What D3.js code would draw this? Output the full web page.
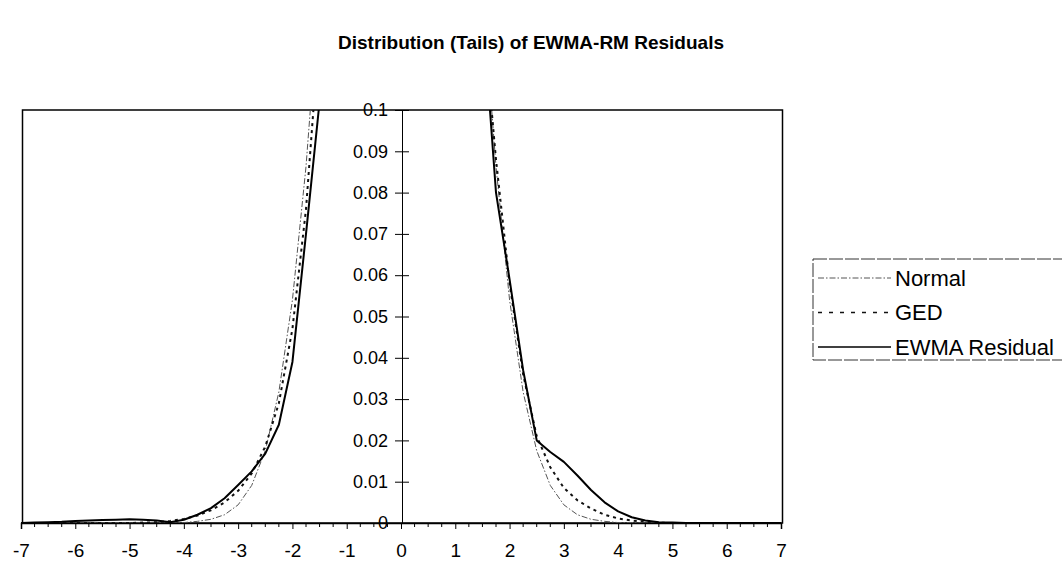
<!DOCTYPE html>
<html>
<head>
<meta charset="utf-8">
<script src="https://cdn.jsdelivr.net/npm/d3@7"></script>
<style>
  body { margin: 0; background: #fff; }
  svg { font-family: Arial, "Liberation Sans", sans-serif; }
</style>
</head>
<body>
<div id="entry"></div>
<script>
// x positions (standardised residual), step 0.25
var xVals = [-7, -6.75, -6.5, -6.25, -6, -5.75, -5.5, -5.25, -5, -4.75, -4.5, -4.25, -4, -3.75, -3.5, -3.25,
  -3, -2.75, -2.5, -2.25, -2, -1.75, -1.5, -1.25, -1, -0.75, -0.5, -0.25, 0, 0.25, 0.5, 0.75, 1, 1.25,
  1.5, 1.75, 2, 2.25, 2.5, 2.75, 3, 3.25, 3.5, 3.75, 4, 4.25, 4.5, 4.75, 5, 5.25, 5.5, 5.75, 6, 6.25,
  6.5, 6.75, 7];

var normalVals = [0, 0, 0, 0, 0, 0, 0, 0, 0, 0, 0, 0.0001, 0.0001, 0.0004, 0.0009, 0.002,
  0.0044, 0.0091, 0.0175, 0.0317, 0.054, 0.0863, 0.1295, 0.1826, 0.242, 0.3011, 0.3521, 0.3867, 0.3989,
  0.3867, 0.3521, 0.3011, 0.242, 0.1826, 0.1295, 0.0863, 0.054, 0.0317, 0.0175, 0.0091, 0.0044, 0.002,
  0.0009, 0.0004, 0.0001, 0.0001, 0, 0, 0, 0, 0, 0, 0, 0, 0, 0, 0];

var gedVals = [0, 0, 0, 0, 0, 0, 0, 0, 0, 0.0001, 0.0002, 0.0005, 0.001, 0.0018, 0.0031, 0.005,
  0.0078, 0.012, 0.0185, 0.029, 0.047, 0.076, 0.12, 0.17, 0.24, 0.31, 0.38, 0.43, 0.45,
  0.43, 0.38, 0.31, 0.24, 0.17, 0.125, 0.088, 0.058, 0.036, 0.021, 0.0135, 0.0085, 0.0055,
  0.0035, 0.002, 0.0011, 0.0006, 0.0003, 0.0001, 0, 0, 0, 0, 0, 0, 0, 0, 0];

var ewmaVals = [0, 0.0001, 0.0002, 0.0003, 0.0005, 0.0006, 0.0007, 0.0008, 0.0009, 0.0008, 0.0006, 0.0002, 0.0008, 0.002, 0.0036, 0.006,
  0.0092, 0.0125, 0.0168, 0.0238, 0.039, 0.07, 0.102, 0.16, 0.24, 0.33, 0.42, 0.48, 0.5,
  0.48, 0.42, 0.33, 0.24, 0.17, 0.125, 0.08, 0.059, 0.037, 0.02, 0.0172, 0.0148, 0.0115,
  0.008, 0.005, 0.0028, 0.0014, 0.0006, 0.0002, 0.0001, 0, 0, 0, 0, 0, 0, 0, 0];

var xTickLabels = [-7, -6, -5, -4, -3, -2, -1, 0, 1, 2, 3, 4, 5, 6, 7];
var yTickLabels = [0, 0.01, 0.02, 0.03, 0.04, 0.05, 0.06, 0.07, 0.08, 0.09, 0.1];
var seriesNames = ['Normal', 'GED', 'EWMA Residual'];

var W = 1062, H = 568;

var x = d3.scaleLinear().domain([-7, 7]).range([21, 781]);
var y = d3.scaleLinear().domain([0, 0.1]).range([523, 110]);

var styles = [
  {color: '#555', width: 1, dash: '6,2,1.5,2'},
  {color: '#111', width: 2, dash: '3,4'},
  {color: '#000', width: 2, dash: null}
];

var svg = d3.select('#entry').append('svg')
  .attr('width', W)
  .attr('height', H);

svg.append('text')
  .attr('x', 531)
  .attr('y', 49)
  .attr('text-anchor', 'middle')
  .style('font-size', '19px')
  .style('font-weight', 'bold')
  .text('Distribution (Tails) of EWMA-RM Residuals');

svg.append('defs').append('clipPath')
  .attr('id', 'plotclip')
  .append('rect')
  .attr('x', x(-7)).attr('y', y(0.1))
  .attr('width', x(7) - x(-7)).attr('height', y(0) - y(0.1));

// plot frame
svg.append('rect')
  .attr('x', x(-7) + 1.5).attr('y', y(0.1))
  .attr('width', x(7) - x(-7)).attr('height', y(0) - y(0.1))
  .attr('fill', 'none')
  .attr('stroke', '#000')
  .attr('stroke-width', 1.5);

// x axis at y = 0
var xAxis = d3.axisBottom(x)
  .tickValues(xTickLabels)
  .tickSize(6)
  .tickFormat(function(d) { return String(d); });

var minorTicks = xVals.filter(function(v) { return xTickLabels.indexOf(v) < 0; });

var gx = svg.append('g')
  .attr('transform', 'translate(0,' + y(0) + ')');
gx.selectAll('line.minor')
  .data(minorTicks)
  .enter().append('line')
  .attr('class', 'minor')
  .attr('x1', function(d) { return x(d); })
  .attr('x2', function(d) { return x(d); })
  .attr('y1', 0).attr('y2', 4)
  .attr('stroke', '#000');
gx.call(xAxis);
gx.select('.domain').attr('stroke-width', 1.5);
gx.selectAll('.tick line').attr('stroke', '#000');
gx.selectAll('.tick text')
  .attr('y', 21)
  .style('font-size', '19px')
  .attr('fill', '#000')
  .style('font-family', 'Arial, "Liberation Sans", sans-serif');

// y axis crossing at x = 0
var yAxis = d3.axisLeft(y)
  .tickValues(yTickLabels)
  .tickSize(0)
  .tickPadding(14)
  .tickFormat(function(d) { return d === 0 ? '0' : d3.format('.2~f')(d); });

var gy = svg.append('g')
  .attr('transform', 'translate(' + (x(0) + 1) + ',0)');
gy.call(yAxis);
gy.select('.domain').attr('stroke', '#000');
gy.selectAll('.tick text')
  .style('font-size', '18px')
  .attr('fill', '#000')
  .style('font-family', 'Arial, "Liberation Sans", sans-serif');
gy.selectAll('.tick')
  .append('line')
  .attr('x1', -7).attr('x2', 7)
  .attr('stroke', '#000');

// series
var allSeries = [normalVals, gedVals, ewmaVals];

var line = d3.line()
  .x(function(d, i) { return x(xVals[i]); })
  .y(function(d) { return y(d); });

svg.append('g')
  .attr('clip-path', 'url(#plotclip)')
  .selectAll('path')
  .data(allSeries)
  .enter()
  .append('path')
  .attr('d', line)
  .attr('fill', 'none')
  .attr('stroke', function(d, i) { return styles[i].color; })
  .attr('stroke-width', function(d, i) { return styles[i].width; })
  .attr('stroke-dasharray', function(d, i) { return styles[i].dash; })
  .attr('stroke-linejoin', 'round');

// legend
var legend = svg.append('g');
legend.append('rect')
  .attr('x', 813).attr('y', 259)
  .attr('width', 260).attr('height', 101)
  .attr('fill', '#fff')
  .attr('stroke', '#333')
  .attr('stroke-width', 1)
  .attr('stroke-dasharray', '14,2');

var items = legend.selectAll('g.item')
  .data(seriesNames)
  .enter().append('g')
  .attr('class', 'item')
  .attr('transform', function(d, i) { return 'translate(0,' + (278 + i * 34.5) + ')'; });

items.append('line')
  .attr('x1', 818).attr('x2', 891)
  .attr('y1', 0).attr('y2', 0)
  .attr('stroke', function(d, i) { return styles[i].color; })
  .attr('stroke-width', function(d, i) { return styles[i].width === 1 ? 1 : 1.5; })
  .attr('stroke-dasharray', function(d, i) { return i === 1 ? '4,7' : styles[i].dash; });

items.append('text')
  .attr('x', 895)
  .attr('y', 7.5)
  .style('font-size', '22px')
  .text(function(d) { return d; });
</script>
</body>
</html>
